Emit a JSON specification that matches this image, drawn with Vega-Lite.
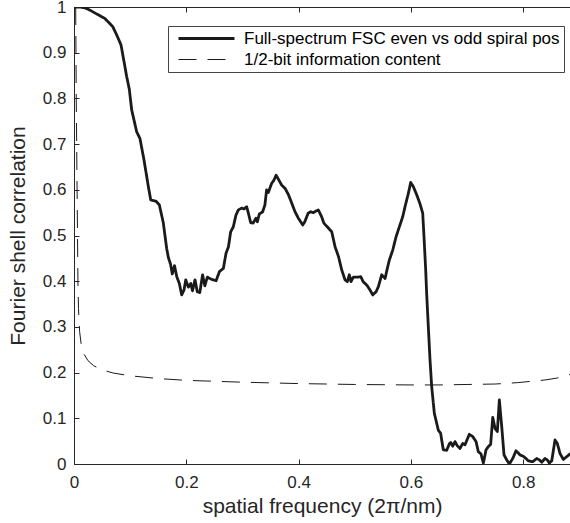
{
  "$schema": "https://vega.github.io/schema/vega-lite/v6.json",
  "width": 496,
  "height": 457,
  "autosize": "none",
  "padding": {"left": 74, "top": 7, "right": 0, "bottom": 59},
  "background": "white",
  "config": {
    "font": "Liberation Sans",
    "view": {"stroke": "#262626", "strokeWidth": 1},
    "axis": {
      "domainColor": "#262626",
      "tickColor": "#262626",
      "labelColor": "#262626",
      "titleColor": "#262626",
      "labelFont": "Liberation Sans",
      "titleFont": "Liberation Sans",
      "labelFontSize": 17,
      "titleFontSize": 21,
      "titleFontWeight": "normal",
      "grid": false,
      "tickSize": -5,
      "labelPadding": 12,
      "labelFlush": false,
      "labelOverlap": false
    }
  },
  "datasets": {
    "fsc": [
      {"f": 0, "c": 1.0, "s": "Full-spectrum FSC even vs odd spiral pos"},
      {"f": 0.01, "c": 1.0, "s": "Full-spectrum FSC even vs odd spiral pos"},
      {"f": 0.02, "c": 0.998, "s": "Full-spectrum FSC even vs odd spiral pos"},
      {"f": 0.0285, "c": 0.993, "s": "Full-spectrum FSC even vs odd spiral pos"},
      {"f": 0.04, "c": 0.985, "s": "Full-spectrum FSC even vs odd spiral pos"},
      {"f": 0.055, "c": 0.975, "s": "Full-spectrum FSC even vs odd spiral pos"},
      {"f": 0.069, "c": 0.957, "s": "Full-spectrum FSC even vs odd spiral pos"},
      {"f": 0.076, "c": 0.939, "s": "Full-spectrum FSC even vs odd spiral pos"},
      {"f": 0.0837, "c": 0.917, "s": "Full-spectrum FSC even vs odd spiral pos"},
      {"f": 0.0896, "c": 0.877, "s": "Full-spectrum FSC even vs odd spiral pos"},
      {"f": 0.0938, "c": 0.848, "s": "Full-spectrum FSC even vs odd spiral pos"},
      {"f": 0.0985, "c": 0.82, "s": "Full-spectrum FSC even vs odd spiral pos"},
      {"f": 0.1027, "c": 0.775, "s": "Full-spectrum FSC even vs odd spiral pos"},
      {"f": 0.1116, "c": 0.727, "s": "Full-spectrum FSC even vs odd spiral pos"},
      {"f": 0.1175, "c": 0.712, "s": "Full-spectrum FSC even vs odd spiral pos"},
      {"f": 0.1247, "c": 0.665, "s": "Full-spectrum FSC even vs odd spiral pos"},
      {"f": 0.1324, "c": 0.607, "s": "Full-spectrum FSC even vs odd spiral pos"},
      {"f": 0.1366, "c": 0.578, "s": "Full-spectrum FSC even vs odd spiral pos"},
      {"f": 0.146, "c": 0.575, "s": "Full-spectrum FSC even vs odd spiral pos"},
      {"f": 0.152, "c": 0.567, "s": "Full-spectrum FSC even vs odd spiral pos"},
      {"f": 0.159, "c": 0.528, "s": "Full-spectrum FSC even vs odd spiral pos"},
      {"f": 0.165, "c": 0.472, "s": "Full-spectrum FSC even vs odd spiral pos"},
      {"f": 0.168, "c": 0.452, "s": "Full-spectrum FSC even vs odd spiral pos"},
      {"f": 0.172, "c": 0.437, "s": "Full-spectrum FSC even vs odd spiral pos"},
      {"f": 0.175, "c": 0.416, "s": "Full-spectrum FSC even vs odd spiral pos"},
      {"f": 0.179, "c": 0.434, "s": "Full-spectrum FSC even vs odd spiral pos"},
      {"f": 0.183, "c": 0.41, "s": "Full-spectrum FSC even vs odd spiral pos"},
      {"f": 0.1876, "c": 0.395, "s": "Full-spectrum FSC even vs odd spiral pos"},
      {"f": 0.1918, "c": 0.37, "s": "Full-spectrum FSC even vs odd spiral pos"},
      {"f": 0.196, "c": 0.381, "s": "Full-spectrum FSC even vs odd spiral pos"},
      {"f": 0.199, "c": 0.403, "s": "Full-spectrum FSC even vs odd spiral pos"},
      {"f": 0.2036, "c": 0.387, "s": "Full-spectrum FSC even vs odd spiral pos"},
      {"f": 0.208, "c": 0.395, "s": "Full-spectrum FSC even vs odd spiral pos"},
      {"f": 0.211, "c": 0.379, "s": "Full-spectrum FSC even vs odd spiral pos"},
      {"f": 0.2155, "c": 0.403, "s": "Full-spectrum FSC even vs odd spiral pos"},
      {"f": 0.2196, "c": 0.377, "s": "Full-spectrum FSC even vs odd spiral pos"},
      {"f": 0.224, "c": 0.375, "s": "Full-spectrum FSC even vs odd spiral pos"},
      {"f": 0.229, "c": 0.414, "s": "Full-spectrum FSC even vs odd spiral pos"},
      {"f": 0.233, "c": 0.39, "s": "Full-spectrum FSC even vs odd spiral pos"},
      {"f": 0.2375, "c": 0.409, "s": "Full-spectrum FSC even vs odd spiral pos"},
      {"f": 0.245, "c": 0.404, "s": "Full-spectrum FSC even vs odd spiral pos"},
      {"f": 0.253, "c": 0.401, "s": "Full-spectrum FSC even vs odd spiral pos"},
      {"f": 0.259, "c": 0.421, "s": "Full-spectrum FSC even vs odd spiral pos"},
      {"f": 0.266, "c": 0.428, "s": "Full-spectrum FSC even vs odd spiral pos"},
      {"f": 0.2707, "c": 0.461, "s": "Full-spectrum FSC even vs odd spiral pos"},
      {"f": 0.275, "c": 0.475, "s": "Full-spectrum FSC even vs odd spiral pos"},
      {"f": 0.279, "c": 0.508, "s": "Full-spectrum FSC even vs odd spiral pos"},
      {"f": 0.2837, "c": 0.519, "s": "Full-spectrum FSC even vs odd spiral pos"},
      {"f": 0.2885, "c": 0.545, "s": "Full-spectrum FSC even vs odd spiral pos"},
      {"f": 0.2927, "c": 0.556, "s": "Full-spectrum FSC even vs odd spiral pos"},
      {"f": 0.2986, "c": 0.56, "s": "Full-spectrum FSC even vs odd spiral pos"},
      {"f": 0.3028, "c": 0.558, "s": "Full-spectrum FSC even vs odd spiral pos"},
      {"f": 0.3075, "c": 0.563, "s": "Full-spectrum FSC even vs odd spiral pos"},
      {"f": 0.3105, "c": 0.549, "s": "Full-spectrum FSC even vs odd spiral pos"},
      {"f": 0.3147, "c": 0.528, "s": "Full-spectrum FSC even vs odd spiral pos"},
      {"f": 0.319, "c": 0.527, "s": "Full-spectrum FSC even vs odd spiral pos"},
      {"f": 0.324, "c": 0.538, "s": "Full-spectrum FSC even vs odd spiral pos"},
      {"f": 0.3265, "c": 0.53, "s": "Full-spectrum FSC even vs odd spiral pos"},
      {"f": 0.33, "c": 0.547, "s": "Full-spectrum FSC even vs odd spiral pos"},
      {"f": 0.336, "c": 0.552, "s": "Full-spectrum FSC even vs odd spiral pos"},
      {"f": 0.34, "c": 0.567, "s": "Full-spectrum FSC even vs odd spiral pos"},
      {"f": 0.343, "c": 0.6, "s": "Full-spectrum FSC even vs odd spiral pos"},
      {"f": 0.346, "c": 0.594, "s": "Full-spectrum FSC even vs odd spiral pos"},
      {"f": 0.352, "c": 0.614, "s": "Full-spectrum FSC even vs odd spiral pos"},
      {"f": 0.356, "c": 0.621, "s": "Full-spectrum FSC even vs odd spiral pos"},
      {"f": 0.36, "c": 0.632, "s": "Full-spectrum FSC even vs odd spiral pos"},
      {"f": 0.365, "c": 0.621, "s": "Full-spectrum FSC even vs odd spiral pos"},
      {"f": 0.37, "c": 0.61, "s": "Full-spectrum FSC even vs odd spiral pos"},
      {"f": 0.376, "c": 0.603, "s": "Full-spectrum FSC even vs odd spiral pos"},
      {"f": 0.382, "c": 0.589, "s": "Full-spectrum FSC even vs odd spiral pos"},
      {"f": 0.388, "c": 0.57, "s": "Full-spectrum FSC even vs odd spiral pos"},
      {"f": 0.3936, "c": 0.552, "s": "Full-spectrum FSC even vs odd spiral pos"},
      {"f": 0.3995, "c": 0.538, "s": "Full-spectrum FSC even vs odd spiral pos"},
      {"f": 0.4073, "c": 0.523, "s": "Full-spectrum FSC even vs odd spiral pos"},
      {"f": 0.411, "c": 0.53, "s": "Full-spectrum FSC even vs odd spiral pos"},
      {"f": 0.417, "c": 0.549, "s": "Full-spectrum FSC even vs odd spiral pos"},
      {"f": 0.4215, "c": 0.552, "s": "Full-spectrum FSC even vs odd spiral pos"},
      {"f": 0.426, "c": 0.55, "s": "Full-spectrum FSC even vs odd spiral pos"},
      {"f": 0.435, "c": 0.556, "s": "Full-spectrum FSC even vs odd spiral pos"},
      {"f": 0.441, "c": 0.541, "s": "Full-spectrum FSC even vs odd spiral pos"},
      {"f": 0.445, "c": 0.527, "s": "Full-spectrum FSC even vs odd spiral pos"},
      {"f": 0.451, "c": 0.519, "s": "Full-spectrum FSC even vs odd spiral pos"},
      {"f": 0.459, "c": 0.508, "s": "Full-spectrum FSC even vs odd spiral pos"},
      {"f": 0.465, "c": 0.475, "s": "Full-spectrum FSC even vs odd spiral pos"},
      {"f": 0.471, "c": 0.454, "s": "Full-spectrum FSC even vs odd spiral pos"},
      {"f": 0.4767, "c": 0.425, "s": "Full-spectrum FSC even vs odd spiral pos"},
      {"f": 0.4826, "c": 0.403, "s": "Full-spectrum FSC even vs odd spiral pos"},
      {"f": 0.4868, "c": 0.399, "s": "Full-spectrum FSC even vs odd spiral pos"},
      {"f": 0.4903, "c": 0.414, "s": "Full-spectrum FSC even vs odd spiral pos"},
      {"f": 0.4933, "c": 0.399, "s": "Full-spectrum FSC even vs odd spiral pos"},
      {"f": 0.4975, "c": 0.409, "s": "Full-spectrum FSC even vs odd spiral pos"},
      {"f": 0.5063, "c": 0.409, "s": "Full-spectrum FSC even vs odd spiral pos"},
      {"f": 0.5106, "c": 0.41, "s": "Full-spectrum FSC even vs odd spiral pos"},
      {"f": 0.515, "c": 0.399, "s": "Full-spectrum FSC even vs odd spiral pos"},
      {"f": 0.5223, "c": 0.39, "s": "Full-spectrum FSC even vs odd spiral pos"},
      {"f": 0.527, "c": 0.381, "s": "Full-spectrum FSC even vs odd spiral pos"},
      {"f": 0.532, "c": 0.37, "s": "Full-spectrum FSC even vs odd spiral pos"},
      {"f": 0.538, "c": 0.377, "s": "Full-spectrum FSC even vs odd spiral pos"},
      {"f": 0.542, "c": 0.388, "s": "Full-spectrum FSC even vs odd spiral pos"},
      {"f": 0.548, "c": 0.414, "s": "Full-spectrum FSC even vs odd spiral pos"},
      {"f": 0.554, "c": 0.406, "s": "Full-spectrum FSC even vs odd spiral pos"},
      {"f": 0.558, "c": 0.428, "s": "Full-spectrum FSC even vs odd spiral pos"},
      {"f": 0.5615, "c": 0.446, "s": "Full-spectrum FSC even vs odd spiral pos"},
      {"f": 0.5676, "c": 0.468, "s": "Full-spectrum FSC even vs odd spiral pos"},
      {"f": 0.5735, "c": 0.497, "s": "Full-spectrum FSC even vs odd spiral pos"},
      {"f": 0.5794, "c": 0.519, "s": "Full-spectrum FSC even vs odd spiral pos"},
      {"f": 0.5854, "c": 0.541, "s": "Full-spectrum FSC even vs odd spiral pos"},
      {"f": 0.5895, "c": 0.563, "s": "Full-spectrum FSC even vs odd spiral pos"},
      {"f": 0.5954, "c": 0.592, "s": "Full-spectrum FSC even vs odd spiral pos"},
      {"f": 0.5996, "c": 0.616, "s": "Full-spectrum FSC even vs odd spiral pos"},
      {"f": 0.6043, "c": 0.607, "s": "Full-spectrum FSC even vs odd spiral pos"},
      {"f": 0.6103, "c": 0.589, "s": "Full-spectrum FSC even vs odd spiral pos"},
      {"f": 0.616, "c": 0.57, "s": "Full-spectrum FSC even vs odd spiral pos"},
      {"f": 0.621, "c": 0.549, "s": "Full-spectrum FSC even vs odd spiral pos"},
      {"f": 0.6233, "c": 0.497, "s": "Full-spectrum FSC even vs odd spiral pos"},
      {"f": 0.6263, "c": 0.425, "s": "Full-spectrum FSC even vs odd spiral pos"},
      {"f": 0.628, "c": 0.374, "s": "Full-spectrum FSC even vs odd spiral pos"},
      {"f": 0.631, "c": 0.3, "s": "Full-spectrum FSC even vs odd spiral pos"},
      {"f": 0.634, "c": 0.228, "s": "Full-spectrum FSC even vs odd spiral pos"},
      {"f": 0.637, "c": 0.169, "s": "Full-spectrum FSC even vs odd spiral pos"},
      {"f": 0.6417, "c": 0.111, "s": "Full-spectrum FSC even vs odd spiral pos"},
      {"f": 0.6488, "c": 0.074, "s": "Full-spectrum FSC even vs odd spiral pos"},
      {"f": 0.653, "c": 0.067, "s": "Full-spectrum FSC even vs odd spiral pos"},
      {"f": 0.6548, "c": 0.0525, "s": "Full-spectrum FSC even vs odd spiral pos"},
      {"f": 0.6577, "c": 0.031, "s": "Full-spectrum FSC even vs odd spiral pos"},
      {"f": 0.6637, "c": 0.03, "s": "Full-spectrum FSC even vs odd spiral pos"},
      {"f": 0.6684, "c": 0.044, "s": "Full-spectrum FSC even vs odd spiral pos"},
      {"f": 0.671, "c": 0.047, "s": "Full-spectrum FSC even vs odd spiral pos"},
      {"f": 0.6744, "c": 0.039, "s": "Full-spectrum FSC even vs odd spiral pos"},
      {"f": 0.6785, "c": 0.049, "s": "Full-spectrum FSC even vs odd spiral pos"},
      {"f": 0.6826, "c": 0.04, "s": "Full-spectrum FSC even vs odd spiral pos"},
      {"f": 0.6874, "c": 0.034, "s": "Full-spectrum FSC even vs odd spiral pos"},
      {"f": 0.6922, "c": 0.045, "s": "Full-spectrum FSC even vs odd spiral pos"},
      {"f": 0.6963, "c": 0.042, "s": "Full-spectrum FSC even vs odd spiral pos"},
      {"f": 0.704, "c": 0.065, "s": "Full-spectrum FSC even vs odd spiral pos"},
      {"f": 0.71, "c": 0.06, "s": "Full-spectrum FSC even vs odd spiral pos"},
      {"f": 0.716, "c": 0.049, "s": "Full-spectrum FSC even vs odd spiral pos"},
      {"f": 0.72, "c": 0.027, "s": "Full-spectrum FSC even vs odd spiral pos"},
      {"f": 0.7248, "c": 0.022, "s": "Full-spectrum FSC even vs odd spiral pos"},
      {"f": 0.729, "c": 0.002, "s": "Full-spectrum FSC even vs odd spiral pos"},
      {"f": 0.7338, "c": 0.031, "s": "Full-spectrum FSC even vs odd spiral pos"},
      {"f": 0.7379, "c": 0.038, "s": "Full-spectrum FSC even vs odd spiral pos"},
      {"f": 0.742, "c": 0.043, "s": "Full-spectrum FSC even vs odd spiral pos"},
      {"f": 0.7457, "c": 0.102, "s": "Full-spectrum FSC even vs odd spiral pos"},
      {"f": 0.7498, "c": 0.078, "s": "Full-spectrum FSC even vs odd spiral pos"},
      {"f": 0.7539, "c": 0.071, "s": "Full-spectrum FSC even vs odd spiral pos"},
      {"f": 0.7575, "c": 0.14, "s": "Full-spectrum FSC even vs odd spiral pos"},
      {"f": 0.7617, "c": 0.082, "s": "Full-spectrum FSC even vs odd spiral pos"},
      {"f": 0.7658, "c": 0.02, "s": "Full-spectrum FSC even vs odd spiral pos"},
      {"f": 0.7706, "c": 0.009, "s": "Full-spectrum FSC even vs odd spiral pos"},
      {"f": 0.7753, "c": 0.0, "s": "Full-spectrum FSC even vs odd spiral pos"},
      {"f": 0.7813, "c": 0.012, "s": "Full-spectrum FSC even vs odd spiral pos"},
      {"f": 0.7872, "c": 0.029, "s": "Full-spectrum FSC even vs odd spiral pos"},
      {"f": 0.7943, "c": 0.02, "s": "Full-spectrum FSC even vs odd spiral pos"},
      {"f": 0.8014, "c": 0.016, "s": "Full-spectrum FSC even vs odd spiral pos"},
      {"f": 0.809, "c": 0.007, "s": "Full-spectrum FSC even vs odd spiral pos"},
      {"f": 0.8169, "c": 0.005, "s": "Full-spectrum FSC even vs odd spiral pos"},
      {"f": 0.824, "c": 0.012, "s": "Full-spectrum FSC even vs odd spiral pos"},
      {"f": 0.8287, "c": 0.009, "s": "Full-spectrum FSC even vs odd spiral pos"},
      {"f": 0.833, "c": 0.004, "s": "Full-spectrum FSC even vs odd spiral pos"},
      {"f": 0.8388, "c": 0.012, "s": "Full-spectrum FSC even vs odd spiral pos"},
      {"f": 0.843, "c": 0.009, "s": "Full-spectrum FSC even vs odd spiral pos"},
      {"f": 0.8465, "c": 0.002, "s": "Full-spectrum FSC even vs odd spiral pos"},
      {"f": 0.8508, "c": 0.007, "s": "Full-spectrum FSC even vs odd spiral pos"},
      {"f": 0.8566, "c": 0.0525, "s": "Full-spectrum FSC even vs odd spiral pos"},
      {"f": 0.8607, "c": 0.045, "s": "Full-spectrum FSC even vs odd spiral pos"},
      {"f": 0.8655, "c": 0.023, "s": "Full-spectrum FSC even vs odd spiral pos"},
      {"f": 0.8714, "c": 0.01, "s": "Full-spectrum FSC even vs odd spiral pos"},
      {"f": 0.8774, "c": 0.016, "s": "Full-spectrum FSC even vs odd spiral pos"},
      {"f": 0.8833, "c": 0.022, "s": "Full-spectrum FSC even vs odd spiral pos"},
      {"f": 0.887, "c": 0.02, "s": "Full-spectrum FSC even vs odd spiral pos"}
    ],
    "half": [
      {"f": 0.003, "c": 1.0, "s": "1/2-bit information content"},
      {"f": 0.004, "c": 0.8, "s": "1/2-bit information content"},
      {"f": 0.0055, "c": 0.6, "s": "1/2-bit information content"},
      {"f": 0.007, "c": 0.4, "s": "1/2-bit information content"},
      {"f": 0.008, "c": 0.34, "s": "1/2-bit information content"},
      {"f": 0.01, "c": 0.29, "s": "1/2-bit information content"},
      {"f": 0.013, "c": 0.26, "s": "1/2-bit information content"},
      {"f": 0.018, "c": 0.24, "s": "1/2-bit information content"},
      {"f": 0.025, "c": 0.226, "s": "1/2-bit information content"},
      {"f": 0.035, "c": 0.215, "s": "1/2-bit information content"},
      {"f": 0.05, "c": 0.206, "s": "1/2-bit information content"},
      {"f": 0.07, "c": 0.199, "s": "1/2-bit information content"},
      {"f": 0.1, "c": 0.193, "s": "1/2-bit information content"},
      {"f": 0.15, "c": 0.187, "s": "1/2-bit information content"},
      {"f": 0.2, "c": 0.183, "s": "1/2-bit information content"},
      {"f": 0.3, "c": 0.179, "s": "1/2-bit information content"},
      {"f": 0.4, "c": 0.176, "s": "1/2-bit information content"},
      {"f": 0.5, "c": 0.174, "s": "1/2-bit information content"},
      {"f": 0.6, "c": 0.173, "s": "1/2-bit information content"},
      {"f": 0.65, "c": 0.173, "s": "1/2-bit information content"},
      {"f": 0.7, "c": 0.174, "s": "1/2-bit information content"},
      {"f": 0.75, "c": 0.175, "s": "1/2-bit information content"},
      {"f": 0.79, "c": 0.178, "s": "1/2-bit information content"},
      {"f": 0.84, "c": 0.184, "s": "1/2-bit information content"},
      {"f": 0.86, "c": 0.188, "s": "1/2-bit information content"},
      {"f": 0.88, "c": 0.195, "s": "1/2-bit information content"},
      {"f": 0.887, "c": 0.197, "s": "1/2-bit information content"}
    ]
  },
  "layer": [
    {
      "data": {"name": "half"},
      "mark": {"type": "line", "clip": true, "strokeWidth": 1, "color": "#1a1a1a"},
      "encoding": {
        "x": {
          "field": "f", "type": "quantitative",
          "scale": {"domain": [0, 0.8833], "nice": false, "zero": false},
          "axis": {"orient": "bottom", "values": [0, 0.2, 0.4, 0.6, 0.8], "format": "~g", "title": "spatial frequency (2π/nm)", "labelPadding": 15, "titlePadding": 5}
        },
        "y": {
          "field": "c", "type": "quantitative",
          "scale": {"domain": [0, 1], "nice": false},
          "axis": {"values": [0, 0.1, 0.2, 0.3, 0.4, 0.5, 0.6, 0.7, 0.8, 0.9, 1], "format": "~g", "title": "Fourier shell correlation", "labelPadding": 13, "titlePadding": 14}
        },
        "strokeDash": {
          "field": "s", "type": "nominal",
          "scale": {"domain": ["Full-spectrum FSC even vs odd spiral pos", "1/2-bit information content"], "range": [[1, 0], [18, 11]]},
          "legend": {
            "orient": "none", "legendX": 94, "legendY": 19,
            "title": null,
            "direction": "vertical",
            "symbolType": "M-2.8,0H2.8",
            "symbolSize": 400,
            "symbolStrokeColor": "#1a1a1a",
            "symbolStrokeWidth": 1,
            "labelFontSize": 17,
            "labelColor": "#000000",
            "labelFont": "Liberation Sans",
            "labelLimit": 420,
            "padding": 4,
            "rowPadding": 3,
            "symbolOffset": 26,
            "labelOffset": 29,
            "strokeColor": "#444444",
            "fillColor": "white",
            "encode": {"symbols": {"update": {"strokeWidth": {"signal": "datum.value == '1/2-bit information content' ? 1 : 2.8"}}}}
          }
        }
      }
    },
    {
      "data": {"name": "fsc"},
      "mark": {"type": "line", "clip": true, "strokeWidth": 2.8, "color": "#1a1a1a", "strokeJoin": "round"},
      "encoding": {
        "x": {
          "field": "f", "type": "quantitative",
          "axis": {"orient": "top", "values": [0, 0.2, 0.4, 0.6, 0.8], "labels": false, "title": null}
        },
        "y": {"field": "c", "type": "quantitative"},
        "strokeDash": {"field": "s", "type": "nominal"}
      }
    }
  ]
}
